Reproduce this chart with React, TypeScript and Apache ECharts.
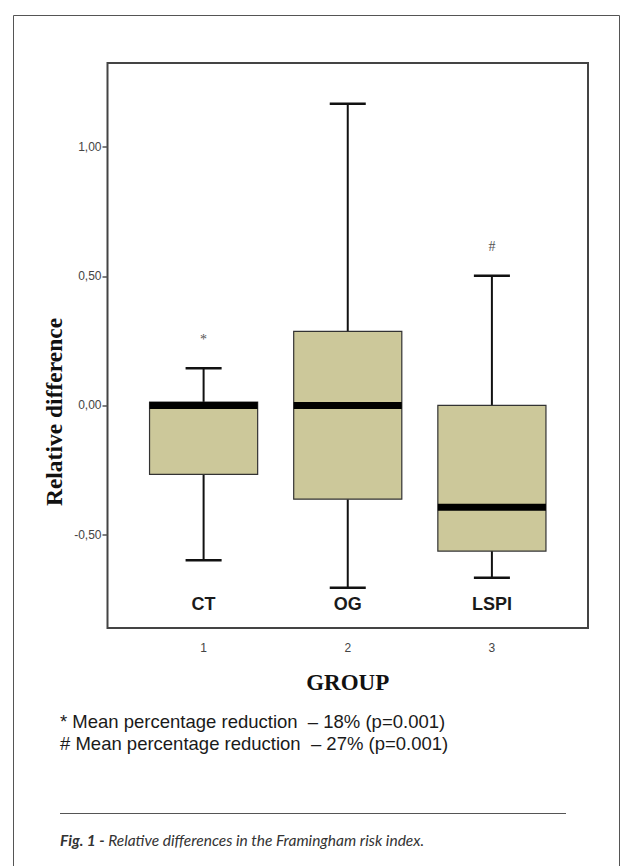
import React, { useEffect, useRef } from "react";
import * as echarts from "echarts";

// ---- data ----
const groupIndex = [1, 2, 3];
const groupNames = ["CT", "OG", "LSPI"];
const whiskerLow = [-0.6, -0.706, -0.667];
const quartile1 = [-0.267, -0.363, -0.564];
const medians = [0.0, 0.0, -0.394];
const quartile3 = [0.013, 0.287, 0.0];
const whiskerHigh = [0.144, 1.168, 0.502];
const markerSymbols = ["*", "", "#"];
const markerValues = [0.255, null, 0.615];
const yTicks = [-0.5, 0, 0.5, 1.0];
const xTicks = [1, 2, 3];
const yAxisTitle = "Relative difference";
const xAxisTitle = "GROUP";
const footnotes = [
  "* Mean percentage reduction  \u2013 18% (p=0.001)",
  "# Mean percentage reduction  \u2013 27% (p=0.001)",
];
const captionBold = "Fig. 1 -";
const captionText = " Relative differences in the Framingham risk index.";

export default function App() {
  const ref = useRef<HTMLDivElement>(null);
  useEffect(() => {
    if (!ref.current) return;
    const chart = echarts.init(ref.current, null, { renderer: "svg" });
    const data = groupIndex.map((g, i) => [
      g,
      whiskerLow[i],
      quartile1[i],
      medians[i],
      quartile3[i],
      whiskerHigh[i],
    ]);
    const yMin = -0.862;
    const yMax = 1.326;
    const option: any = {
      animation: false,
      backgroundColor: "#ffffff",
      grid: {
        left: 107.5,
        right: 33,
        top: 63,
        bottom: 238,
        show: true,
        borderColor: "#444444",
        borderWidth: 2,
        backgroundColor: "transparent",
      },
      xAxis: {
        type: "value",
        min: 1 / 3,
        max: 11 / 3,
        name: xAxisTitle,
        nameLocation: "middle",
        nameGap: 43,
        nameTextStyle: {
          fontFamily: "'Liberation Serif', serif",
          fontWeight: "bold",
          fontSize: 23,
          color: "#111",
        },
        splitLine: { show: false },
        axisLine: { show: false },
        axisTick: {
          show: true,
          length: 7,
          customValues: xTicks,
          lineStyle: { color: "#555", width: 1.5 },
        },
        axisLabel: {
          customValues: xTicks,
          fontFamily: "'Liberation Sans', Arial, sans-serif",
          fontSize: 12,
          color: "#444",
          margin: 14,
        },
      },
      yAxis: {
        type: "value",
        min: yMin,
        max: yMax,
        splitLine: { show: false },
        axisLine: { show: false },
        axisTick: {
          show: true,
          length: 5,
          customValues: yTicks,
          lineStyle: { color: "#555", width: 1.5 },
        },
        axisLabel: {
          customValues: yTicks,
          fontFamily: "'Liberation Sans', Arial, sans-serif",
          fontSize: 12,
          color: "#444",
          margin: 6,
          formatter: (v: number) => v.toFixed(2).replace(".", ","),
        },
      },
      series: [
        {
          type: "custom",
          data,
          encode: { x: 0, y: [1, 2, 3, 4, 5] },
          renderItem: (params: any, api: any) => {
            const idx = params.dataIndex;
            const x = api.value(0);
            const lo = api.coord([x, api.value(1)]);
            const q1 = api.coord([x, api.value(2)]);
            const md = api.coord([x, api.value(3)]);
            const q3 = api.coord([x, api.value(4)]);
            const hi = api.coord([x, api.value(5)]);
            const unit = api.size([1, 0])[0];
            const bw = unit * 0.75;
            const cw = unit * 0.25;
            const cx = lo[0];
            const cs = params.coordSys;
            const bottom = cs.y + cs.height;
            const lineStyle = { stroke: "#111", lineWidth: 2 };
            const children: any[] = [
              {
                type: "line",
                shape: { x1: cx, y1: hi[1], x2: cx, y2: q3[1] },
                style: lineStyle,
              },
              {
                type: "line",
                shape: { x1: cx, y1: q1[1], x2: cx, y2: lo[1] },
                style: lineStyle,
              },
              {
                type: "line",
                shape: { x1: cx - cw / 2, y1: hi[1], x2: cx + cw / 2, y2: hi[1] },
                style: { stroke: "#111", lineWidth: 2.5 },
              },
              {
                type: "line",
                shape: { x1: cx - cw / 2, y1: lo[1], x2: cx + cw / 2, y2: lo[1] },
                style: { stroke: "#111", lineWidth: 2.5 },
              },
              {
                type: "rect",
                shape: { x: cx - bw / 2, y: q3[1], width: bw, height: q1[1] - q3[1] },
                style: { fill: "#ccc89a", stroke: "#333", lineWidth: 1.2 },
              },
              {
                type: "rect",
                shape: { x: cx - bw / 2, y: md[1] - 3.5, width: bw, height: 7 },
                style: { fill: "#000" },
              },
              {
                type: "text",
                style: {
                  text: groupNames[idx],
                  x: cx,
                  y: bottom - 24,
                  align: "center",
                  verticalAlign: "middle",
                  font: "bold 18px 'Liberation Sans', Arial, sans-serif",
                  fill: "#1a1a1a",
                },
              },
            ];
            const mv = markerValues[idx];
            if (mv != null && markerSymbols[idx]) {
              const mp = api.coord([x, mv]);
              children.push({
                type: "text",
                style: {
                  text: markerSymbols[idx],
                  x: cx,
                  y: mp[1],
                  align: "center",
                  verticalAlign: "middle",
                  font: "14px 'Liberation Serif', serif",
                  fill: "#555",
                },
              });
            }
            return { type: "group", children };
          },
        },
      ],
      graphic: [
        {
          type: "rect",
          shape: { x: 13.5, y: 15.5, width: 606, height: 900 },
          style: { fill: "none", stroke: "#555", lineWidth: 1 },
          silent: true,
        },
        {
          type: "text",
          x: 54,
          y: 412,
          rotation: Math.PI / 2,
          style: {
            text: yAxisTitle,
            align: "center",
            verticalAlign: "middle",
            font: "bold 23.5px 'Liberation Serif', serif",
            fill: "#111",
          },
        },
        {
          type: "text",
          left: 60,
          top: 710,
          style: {
            text: footnotes.join("\n"),
            font: "18.5px 'Liberation Sans', Arial, sans-serif",
            lineHeight: 22,
            fill: "#1a1a1a",
          },
        },
        {
          type: "line",
          shape: { x1: 60, y1: 813.5, x2: 566, y2: 813.5 },
          style: { stroke: "#555", lineWidth: 1 },
        },
        {
          type: "text",
          left: 60,
          top: 832,
          style: {
            text: "{b|" + captionBold + "}{n|" + captionText + "}",
            rich: {
              b: {
                font: "italic bold 15.5px Lato, 'Open Sans', sans-serif",
                fill: "#333",
              },
              n: {
                font: "italic 15.5px Lato, 'Open Sans', sans-serif",
                fill: "#333",
              },
            },
          },
        },
      ],
    };
    chart.setOption(option);
    return () => chart.dispose();
  }, []);
  return (
    <div
      ref={ref}
      style={{ position: "absolute", left: 0, top: 0, width: 621, height: 866 }}
    />
  );
}
